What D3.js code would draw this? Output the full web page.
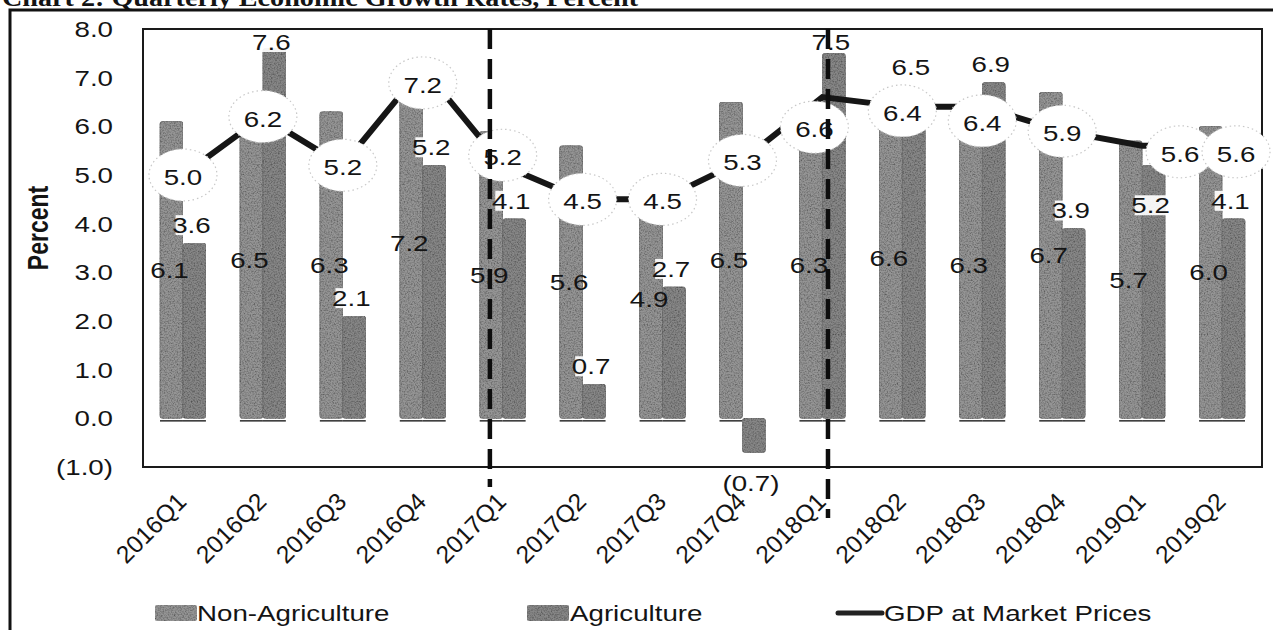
<!DOCTYPE html>
<html>
<head>
<meta charset="utf-8">
<script src="https://cdn.jsdelivr.net/npm/d3@7/dist/d3.min.js"></script>
<style>
  html, body { margin: 0; padding: 0; background: #fff; }
  svg { display: block; }
  text { font-family: "Liberation Sans", Arial, sans-serif; fill: #141414; }
</style>
</head>
<body>
<svg id="chart" width="1273" height="630"></svg>
<script>
// Quarterly growth rates, percent
const categories = ["2016Q1","2016Q2","2016Q3","2016Q4","2017Q1","2017Q2","2017Q3",
                    "2017Q4","2018Q1","2018Q2","2018Q3","2018Q4","2019Q1","2019Q2"];
const nonAgriculture = [6.1, 6.5, 6.3, 7.2, 5.9, 5.6, 4.9, 6.5, 6.3, 6.6, 6.3, 6.7, 5.7, 6.0];
const agriculture    = [3.6, 7.6, 2.1, 5.2, 4.1, 0.7, 2.7, -0.7, 7.5, 6.5, 6.9, 3.9, 5.2, 4.1];
const gdpMarket      = [5.0, 6.2, 5.2, 7.2, 5.2, 4.5, 4.5, 5.3, 6.6, 6.4, 6.4, 5.9, 5.6, 5.6];
const yTicks = [-1, 0, 1, 2, 3, 4, 5, 6, 7, 8];
const seriesNames = ["Non-Agriculture", "Agriculture", "GDP at Market Prices"];

// Label placement tweaks (pixels) for crowded quarters
const gdpLabelNudge = { "2016Q4": [0, 15], "2017Q1": [0, -10], "2018Q1": [-8, 30],
                        "2018Q2": [0, 4], "2018Q3": [0, 14], "2019Q1": [38, 6], "2019Q2": [14, 6] };
const agLabelMode = { "2018Q2": "aboveBubble", "2019Q1": "inside" };
// Vertical dashed period markers: category and relative position inside its band
const periodMarks = [{ cat: "2017Q1", at: 0.34, end: 487 }, { cat: "2018Q1", at: 0.57, end: 518 }];

const SX = 1.26;          // horizontal text stretch
const FS = 22;            // base font size
const svg = d3.select("#chart");

const plot = { left: 143, top: 29, right: 1262, bottom: 467 };
const x = d3.scaleBand().domain(categories).range([plot.left, plot.right]);
const xs = d3.scaleBand().domain(["non", "ag"]).range([0, x.bandwidth()]).paddingOuter(0.74);
const y = d3.scaleLinear().domain([-1, 8]).range([plot.bottom, plot.top]);

const fmt = v => v < 0 ? `(${Math.abs(v).toFixed(1)})` : v.toFixed(1);

// grain texture for the bars
const defs = svg.append("defs");
const grain = defs.append("filter").attr("id", "grain")
  .attr("x", 0).attr("y", 0).attr("width", 1).attr("height", 1);
grain.append("feTurbulence").attr("type", "fractalNoise").attr("baseFrequency", 0.7)
  .attr("numOctaves", 2).attr("seed", 7).attr("result", "noise");
grain.append("feColorMatrix").attr("in", "noise").attr("type", "matrix")
  .attr("values", "0 0 0 0 0  0 0 0 0 0  0 0 0 0 0  1.4 0 0 0 -0.55").attr("result", "spots");
grain.append("feComposite").attr("in", "spots").attr("in2", "SourceGraphic")
  .attr("operator", "in").attr("result", "specks");
const gm = grain.append("feMerge");
gm.append("feMergeNode").attr("in", "SourceGraphic");
gm.append("feMergeNode").attr("in", "specks");

// stretched text helper
function stext(parent, tx, ty, str, anchor, opts = {}) {
  const sx = opts.sx !== undefined ? opts.sx : SX;
  const g = parent.append("g")
    .attr("transform", `translate(${tx},${ty}) scale(${sx},1)` + (opts.rotate ? ` rotate(${opts.rotate})` : ""));
  const t = g.append("text").attr("text-anchor", anchor || "middle")
    .attr("font-size", opts.size || FS)
    .attr("font-weight", opts.bold ? "bold" : "normal")
    .attr("dy", opts.dy !== undefined ? opts.dy : "0.36em")
    .text(str);
  return { g, t };
}

// title (partly above the frame)
svg.append("text")
  .attr("x", 2).attr("y", 6)
  .attr("textLength", 636).attr("lengthAdjust", "spacingAndGlyphs")
  .style("font-family", "'Liberation Serif', 'Times New Roman', serif")
  .attr("font-weight", "bold").attr("font-size", 26)
  .text("Chart 2: Quarterly Economic Growth Rates, Percent");

// outer frame
svg.append("rect").attr("x", 10).attr("y", 10).attr("width", 1400).attr("height", 800)
  .attr("fill", "none").attr("stroke", "#111").attr("stroke-width", 3);

// plot area box
svg.append("rect").attr("x", plot.left).attr("y", plot.top)
  .attr("width", plot.right - plot.left).attr("height", plot.bottom - plot.top)
  .attr("fill", "none").attr("stroke", "#1a1a1a").attr("stroke-width", 2);

// y axis labels
const yAxisG = svg.append("g");
yTicks.forEach(t => stext(yAxisG, 113, y(t), fmt(t), "end"));
stext(svg, 38, 228, "Percent", "middle", { rotate: -90, bold: true, size: 23 });

// x axis labels
const xAxisG = svg.append("g");
categories.forEach(c => {
  stext(xAxisG, x(c) + x.bandwidth() / 2 + 5, 503, c, "end", { rotate: -45, dy: 0, sx: 1, size: 24.5 });
});

// bars
const barColor = { non: "#959595", ag: "#878787" };
const barsG = svg.append("g");
const rows = categories.map((c, i) => ({ c, non: nonAgriculture[i], ag: agriculture[i] }));
rows.forEach(r => {
  ["non", "ag"].forEach(k => {
    const v = r[k];
    const bx = x(r.c) + xs(k);
    const y0 = y(0), y1 = y(v);
    barsG.append("rect")
      .attr("x", bx).attr("y", Math.min(y0, y1))
      .attr("width", xs.bandwidth()).attr("height", Math.abs(y1 - y0))
      .attr("rx", 2.5)
      .attr("fill", barColor[k]).attr("stroke", "#707070").attr("stroke-width", 0.8)
      .attr("filter", "url(#grain)");
    if (v > 0) {
      barsG.append("line").attr("x1", bx).attr("x2", bx + xs.bandwidth())
        .attr("y1", y0 + 2.5).attr("y2", y0 + 2.5)
        .attr("stroke", "#3a3a3a").attr("stroke-width", 1.6);
    }
  });
});

// GDP line
const line = d3.line()
  .x((d, i) => x(categories[i]) + x.bandwidth() / 2)
  .y(d => y(d));
svg.append("path").datum(gdpMarket).attr("d", line)
  .attr("fill", "none").attr("stroke", "#161616").attr("stroke-width", 6);

// non-agriculture value labels, centred in the bar
const nonLabG = svg.append("g");
rows.forEach(r => {
  stext(nonLabG, x(r.c) + xs("non") + xs.bandwidth() / 2 - 2, y(r.non / 2), fmt(r.non), "middle");
});

// GDP bubble labels
const bubG = svg.append("g");
const gdpPos = categories.map((c, i) => {
  const n = gdpLabelNudge[c] || [0, 0];
  return { c, v: gdpMarket[i], cx: x(c) + x.bandwidth() / 2 + n[0], cy: y(gdpMarket[i]) + n[1] };
});
gdpPos.forEach(p => {
  bubG.append("ellipse").attr("cx", p.cx).attr("cy", p.cy).attr("rx", 34).attr("ry", 26)
    .attr("fill", "#fff").attr("stroke", "#c8c8c8").attr("stroke-width", 1.2)
    .attr("stroke-dasharray", "1.5,3");
});
gdpPos.forEach(p => stext(bubG, p.cx, p.cy + 2, fmt(p.v), "middle"));

// agriculture value labels
const agLabG = svg.append("g");
rows.forEach((r, i) => {
  const cx = x(r.c) + xs("ag") + xs.bandwidth() / 2 - 3;
  const mode = agLabelMode[r.c] || "outside";
  let cy;
  if (r.ag < 0) {
    cy = y(r.ag) + 31;
  } else if (mode === "inside") {
    cy = y(r.ag) + 40;
  } else if (mode === "aboveBubble") {
    cy = gdpPos[i].cy - 26 - 18;
  } else {
    cy = Math.max(y(r.ag) - 18, plot.top + 13);
  }
  const label = fmt(r.ag);
  const w = label.length * 12.4 * SX * 0.55 + 6;
  if (r.ag > 0) {
    agLabG.append("rect").attr("x", cx - w / 2).attr("y", cy - 10)
      .attr("width", w).attr("height", 20).attr("fill", "#fff").attr("opacity", 0.92);
  }
  stext(agLabG, cx, cy, label, "middle");
});

// dashed period markers
periodMarks.forEach(m => {
  const mx = x(m.cat) + x.bandwidth() * m.at;
  svg.append("line").attr("x1", mx).attr("x2", mx).attr("y1", plot.top).attr("y2", m.end)
    .attr("stroke", "#0d0d0d").attr("stroke-width", 4.5).attr("stroke-dasharray", "20,10");
});

// legend
const legG = svg.append("g");
const legY = 613;
legG.append("rect").attr("x", 155).attr("y", legY - 8).attr("width", 42).attr("height", 16)
  .attr("rx", 2).attr("fill", barColor.non).attr("filter", "url(#grain)");
stext(legG, 197, legY, seriesNames[0], "start");
legG.append("rect").attr("x", 527).attr("y", legY - 8).attr("width", 42).attr("height", 16)
  .attr("rx", 2).attr("fill", barColor.ag).attr("filter", "url(#grain)");
stext(legG, 570, legY, seriesNames[1], "start");
legG.append("line").attr("x1", 838).attr("x2", 882).attr("y1", legY).attr("y2", legY)
  .attr("stroke", "#222").attr("stroke-width", 5).attr("stroke-linecap", "round");
stext(legG, 884, legY, seriesNames[2], "start");
</script>
</body>
</html>
